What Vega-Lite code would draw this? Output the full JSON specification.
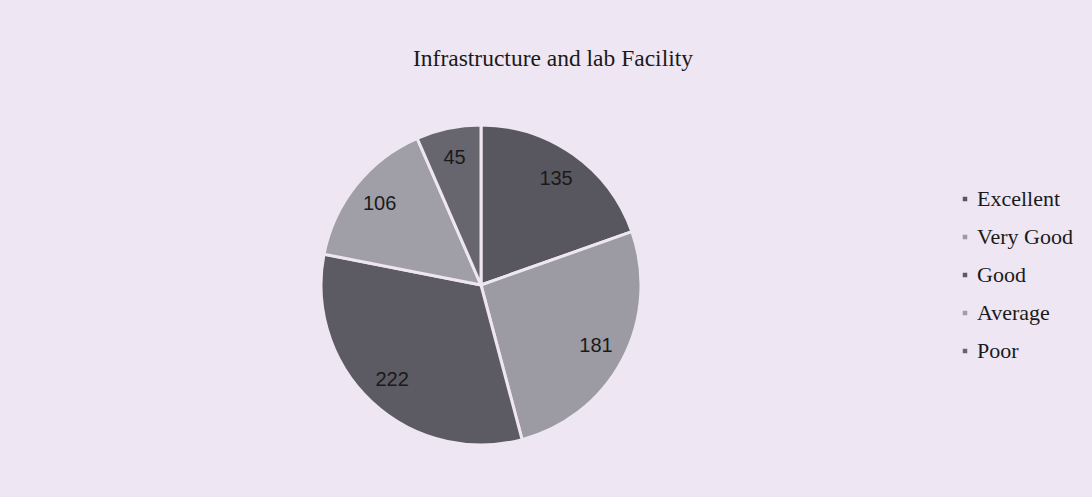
{
  "$schema": "https://vega.github.io/schema/vega-lite/v6.json",
  "width": 946,
  "height": 430,
  "autosize": {"type": "none"},
  "padding": {"left": 8, "top": 70, "right": 138, "bottom": 0},
  "background": "#eee6f2",
  "title": {
    "text": "Infrastructure and lab Facility",
    "font": "Liberation Serif",
    "fontSize": 23.5,
    "fontWeight": "normal",
    "color": "#1a1a1a",
    "anchor": "middle",
    "dx": 72,
    "offset": 0
  },
  "data": {
    "values": [
      {"idx": 1, "rating": "Excellent", "count": 135},
      {"idx": 2, "rating": "Very Good", "count": 181},
      {"idx": 3, "rating": "Good", "count": 222},
      {"idx": 4, "rating": "Average", "count": 106},
      {"idx": 5, "rating": "Poor", "count": 45}
    ]
  },
  "encoding": {
    "theta": {"field": "count", "type": "quantitative", "stack": true},
    "order": {"field": "idx", "type": "ordinal"},
    "color": {
      "field": "rating",
      "type": "nominal",
      "scale": {
        "domain": ["Excellent", "Very Good", "Good", "Average", "Poor"],
        "range": ["#58575f", "#9c9ba3", "#5c5b63", "#a09fa8", "#67666e"]
      },
      "legend": {
        "title": null,
        "orient": "none",
        "legendX": 946,
        "legendY": 118,
        "symbolType": "square",
        "symbolSize": 36,
        "labelFont": "Liberation Serif",
        "labelFontSize": 22,
        "labelColor": "#1a1a1a",
        "rowPadding": 16,
        "labelOffset": 1,
        "labelLimit": 200
      }
    }
  },
  "layer": [
    {
      "mark": {"type": "arc", "outerRadius": 160, "stroke": "#eee6f2", "strokeWidth": 3}
    },
    {
      "mark": {"type": "text", "radius": 130, "font": "Liberation Sans", "fontSize": 20, "color": "#1a1a1a"},
      "encoding": {
        "text": {"field": "count", "type": "quantitative"},
        "color": {"value": "#1a1a1a"}
      }
    }
  ],
  "config": {"view": {"stroke": null}}
}
